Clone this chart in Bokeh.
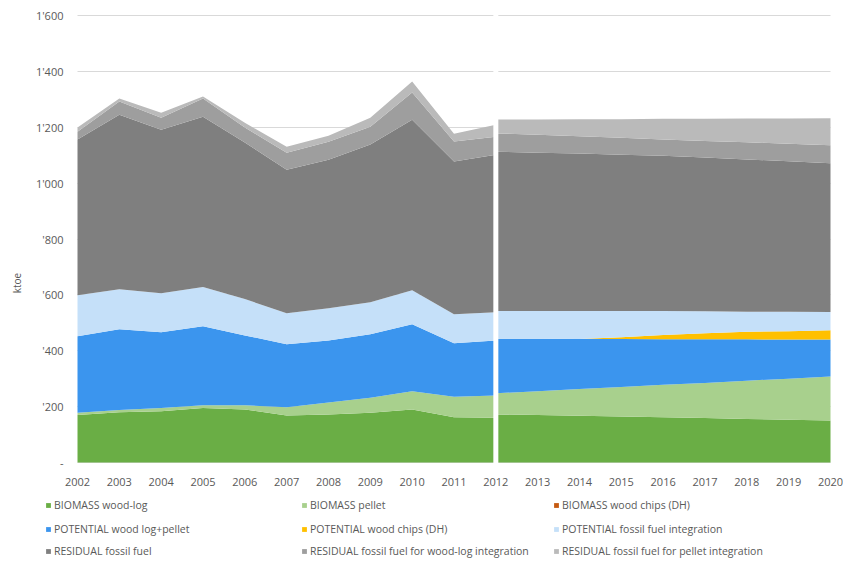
from bokeh.plotting import figure
from bokeh.models import (ColumnDataSource, Range1d, FixedTicker, Span, Legend, LegendItem,
                          LinearAxis, Grid)
from bokeh.embed import file_html
from bokeh.resources import INLINE

# ---------------- data ----------------
years_hist = [2002, 2003, 2004, 2005, 2006, 2007, 2008, 2009, 2010, 2011, 2012]
years_proj = [2012, 2013, 2014, 2015, 2016, 2017, 2018, 2019, 2020]

series_names = [
    "BIOMASS wood-log",
    "BIOMASS pellet",
    "BIOMASS wood chips (DH)",
    "POTENTIAL wood log+pellet",
    "POTENTIAL wood chips (DH)",
    "POTENTIAL fossil fuel integration",
    "RESIDUAL fossil fuel",
    "RESIDUAL fossil fuel for wood-log integration",
    "RESIDUAL fossil fuel for pellet integration",
]
series_colors = ["#6aae45", "#a8d08d", "#c55a11", "#3b95ee", "#ffc000",
                 "#c5e0f9", "#7f7f7f", "#9e9e9e", "#bababa"]

# historical (2002-2012), ktoe
wood_log_hist = [170, 180, 183, 195, 190, 168, 172, 178, 190, 162, 160]
pellet_hist = [8, 8, 12, 10, 15, 30, 43, 54, 65, 73, 80]
chips_hist = [0, 0, 0, 0, 0, 0, 0, 0, 0, 0, 0]
pot_wl_pellet_hist = [274, 289, 271, 283, 250, 225, 222, 227, 240, 192, 197]
pot_chips_hist = [0, 0, 0, 0, 0, 0, 0, 0, 0, 0, 0]
pot_ff_hist = [147, 143, 140, 140, 130, 111, 115, 115, 122, 104, 101]
res_ff_hist = [557, 625, 585, 610, 560, 514, 532, 564, 610, 546, 564]
res_wl_hist = [28, 47, 43, 65, 54, 61, 64, 64, 97, 72, 64]
res_pel_hist = [15, 11, 18, 7, 17, 21, 22, 32, 40, 28, 43]

# projection (2012-2020), ktoe
wood_log_proj = [172, 170, 167, 165, 162, 159, 156, 153, 150]
pellet_proj = [76, 85, 96, 105, 116, 126, 137, 147, 158]
chips_proj = [0, 0, 0, 0, 0, 0, 0, 0, 0]
pot_wl_pellet_proj = [195, 188, 179, 172, 163, 156, 148, 140, 132]
pot_chips_proj = [0, 0, 0, 6, 15, 22, 27, 30, 33]
pot_ff_proj = [99, 99, 100, 94, 86, 78, 72, 70, 66]
res_ff_proj = [570, 567, 564, 560, 556, 551, 545, 538, 532]
res_wl_proj = [66, 64, 62, 60, 58, 59, 61, 63, 65]
res_pel_proj = [50, 55, 61, 67, 74, 79, 85, 90, 96]

y_ticks = [0, 200, 400, 600, 800, 1000, 1200, 1400, 1600]
y_tick_labels = ["-", "'200", "'400", "'600", "'800", "1'000", "1'200", "1'400", "1'600"]
x_ticks = list(range(2002, 2021))
x_tick_labels = [str(y) for y in x_ticks]

keys = ["s%d" % i for i in range(9)]
hist_cols = [years_hist, wood_log_hist, pellet_hist, chips_hist, pot_wl_pellet_hist,
             pot_chips_hist, pot_ff_hist, res_ff_hist, res_wl_hist, res_pel_hist]
proj_cols = [years_proj, wood_log_proj, pellet_proj, chips_proj, pot_wl_pellet_proj,
             pot_chips_proj, pot_ff_proj, res_ff_proj, res_wl_proj, res_pel_proj]
hist_src = ColumnDataSource(dict(zip(["x"] + keys, hist_cols)))
proj_src = ColumnDataSource(dict(zip(["x"] + keys, proj_cols)))

FONT = "Open Sans"
TXT = "#595959"

# ---------------- layout (pixels) ----------------
W, H = 843, 565
PX_LEFT, PX_RIGHT = 77, 830      # x pixel of first / last year
PX_ZERO, PX_TOP = 462, 15        # y pixel of 0 and of top value
x0, x1 = x_ticks[0], x_ticks[-1]
y0, y1 = y_ticks[0], y_ticks[-1]
ppx = (PX_RIGHT - PX_LEFT) / (x1 - x0)
ppy = (PX_ZERO - PX_TOP) / (y1 - y0)
xr = Range1d(x0 - PX_LEFT / ppx, x1 + (W - PX_RIGHT) / ppx)
yr = Range1d(y0 - (H - PX_ZERO) / ppy, y1 + PX_TOP / ppy)

p = figure(width=W, height=H, output_backend="svg", toolbar_location=None,
           x_range=xr, y_range=yr, min_border=0,
           x_axis_location=None, y_axis_location=None)
p.outline_line_color = None
# drop any default grids
p.center = [r for r in p.center if not isinstance(r, Grid)]

xaxis = LinearAxis(fixed_location=y0, ticker=FixedTicker(ticks=x_ticks),
                   major_label_overrides=dict(zip(x_ticks, x_tick_labels)))
yaxis = LinearAxis(fixed_location=x0, ticker=FixedTicker(ticks=y_ticks),
                   major_label_overrides=dict(zip(y_ticks, y_tick_labels)))
for ax in (xaxis, yaxis):
    ax.axis_line_color = None
    ax.major_tick_line_color = None
    ax.minor_tick_line_color = None
    ax.major_tick_out = 0
    ax.major_tick_in = 0
    ax.major_label_text_font = FONT
    ax.major_label_text_font_size = "11px"
    ax.major_label_text_color = TXT
xaxis.major_label_standoff = 15
yaxis.major_label_standoff = 14
yaxis.axis_label = "ktoe"
yaxis.axis_label_text_font = FONT
yaxis.axis_label_text_font_size = "10px"
yaxis.axis_label_text_font_style = "normal"
yaxis.axis_label_text_color = TXT
yaxis.axis_label_standoff = 9
p.add_layout(xaxis, "below")
p.add_layout(yaxis, "left")

p.add_layout(Grid(dimension=1, ticker=yaxis.ticker, grid_line_color="#d9d9d9",
                  cross_bounds=(x0, x1)))

r_hist = p.varea_stack(stackers=keys, x="x", color=series_colors, source=hist_src)
r_proj = p.varea_stack(stackers=keys, x="x", color=series_colors, source=proj_src)

# white divider between history and projection
p.add_layout(Span(location=years_proj[0], dimension="height", line_color="white",
                  line_width=5, level="glyph"))

# legend: 3 x 3 grid below the chart
col_x = [45, 301, 553]
row_y = [53, 29, 7]
for i, name in enumerate(series_names):
    leg = Legend(items=[LegendItem(label=name, renderers=[r_hist[i]])],
                 location=(col_x[i % 3], row_y[i // 3]), orientation="horizontal",
                 glyph_width=6, glyph_height=6, label_height=6, label_standoff=3,
                 label_text_font=FONT, label_text_font_size="10.5px", label_text_color=TXT,
                 padding=0, margin=0, spacing=0,
                 border_line_alpha=0, background_fill_alpha=0)
    p.add_layout(leg)

open("out.html", "w").write(file_html(p, INLINE))
